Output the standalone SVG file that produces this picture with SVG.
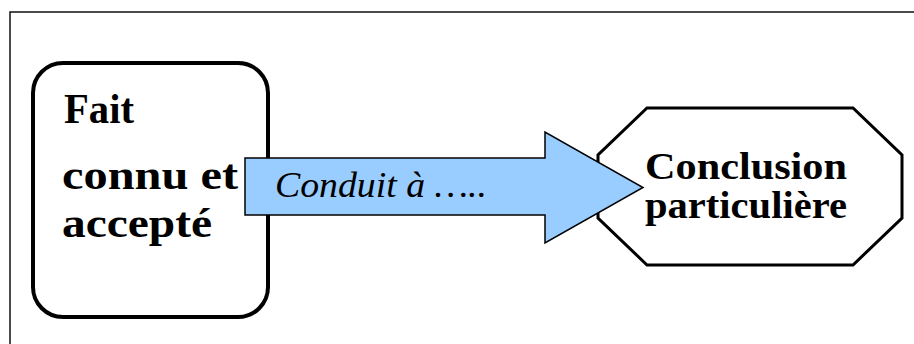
<svg xmlns="http://www.w3.org/2000/svg" width="914" height="344" viewBox="0 0 914 344">
<style>
.node-text{font-family:"Liberation Serif","DejaVu Serif",serif;font-weight:bold;fill:#000}
.arrow-text{font-family:"Liberation Serif","DejaVu Serif",serif;font-style:italic;fill:#000}
</style>
<rect x="10" y="12" width="920" height="350" fill="#fff" stroke="#111" stroke-width="1.5"/>
<g id="fait">
<rect x="33" y="63" width="235" height="254" rx="30" ry="30" fill="#fff" stroke="#000" stroke-width="4"/>
<text class="node-text" font-size="42" x="64" y="123" textLength="70" lengthAdjust="spacingAndGlyphs">Fait</text>
<text class="node-text" font-size="42" x="62" y="189" textLength="176" lengthAdjust="spacingAndGlyphs">connu et</text>
<text class="node-text" font-size="42" x="62" y="237" textLength="150" lengthAdjust="spacingAndGlyphs">accepté</text>
</g>
<g id="conclusion">
<polygon points="647,108 853,108 902,155 902,218 853,265 647,265 598,218 598,155" fill="#fff" stroke="#000" stroke-width="3"/>
<text class="node-text" font-size="38" x="645" y="179" textLength="202" lengthAdjust="spacingAndGlyphs">Conclusion</text>
<text class="node-text" font-size="38" x="645" y="218" textLength="202" lengthAdjust="spacingAndGlyphs">particulière</text>
</g>
<g id="connectors">
<polygon points="245,158 545,158 545,132 643,187.5 545,243 545,215 245,215" fill="#99ccff" stroke="#000" stroke-width="1.5" stroke-linejoin="miter"/>
<text class="arrow-text" font-size="36" x="275" y="197" textLength="212" lengthAdjust="spacingAndGlyphs">Conduit à …..</text>
</g>
</svg>
